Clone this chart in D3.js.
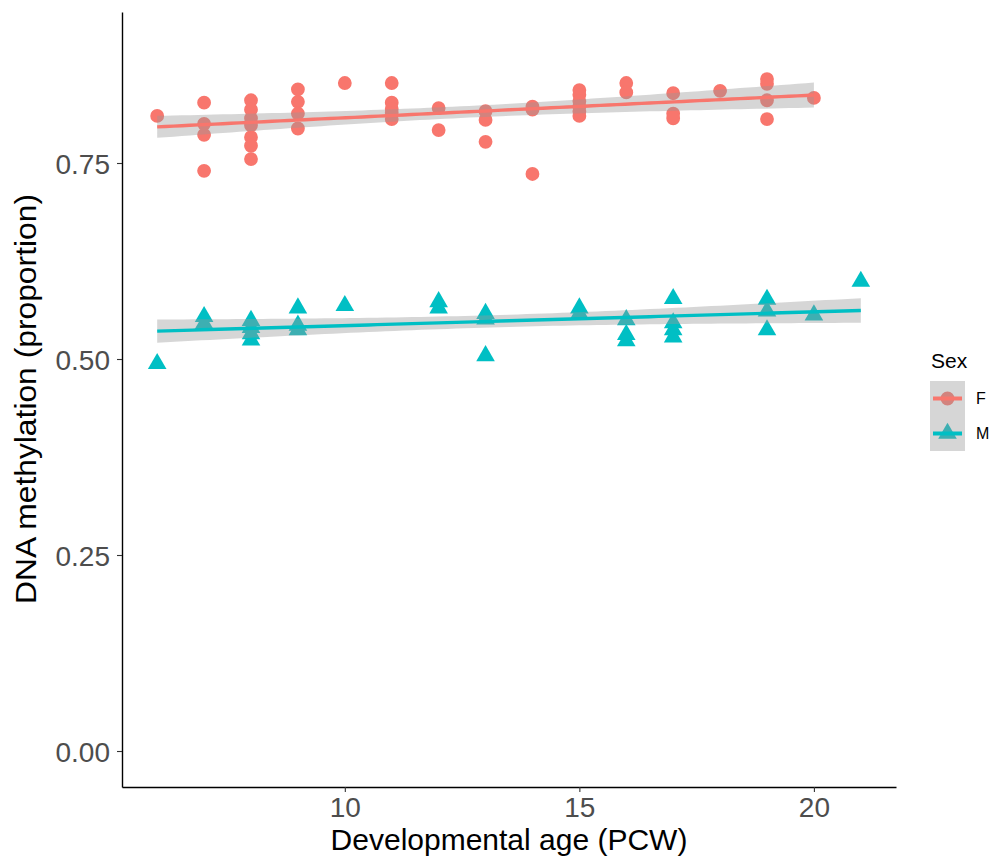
<!DOCTYPE html>
<html>
<head>
<meta charset="utf-8">
<script src="https://cdn.jsdelivr.net/npm/d3@7"></script>
<style>
  body { margin: 0; background: #fff; }
  svg { font-family: "Liberation Sans", Arial, sans-serif; }
</style>
</head>
<body>
<svg class="figure" width="994" height="864"></svg>
<script>
// data
var femaleAge = [6, 7, 7, 7, 7, 8, 8, 8, 8, 8, 8, 8, 9, 9, 9, 9, 10, 11, 11, 11, 11, 11,
  12, 12, 13, 13, 13, 14, 14, 14, 15, 15, 15, 15, 15, 15, 16, 16, 17, 17, 17, 18, 19, 19, 19, 19, 20];
var femaleMeth = [0.810, 0.827, 0.800, 0.786, 0.740, 0.830, 0.818, 0.807, 0.798, 0.783, 0.772, 0.755,
  0.844, 0.828, 0.813, 0.794, 0.852, 0.852, 0.827, 0.819, 0.814, 0.806,
  0.820, 0.792, 0.816, 0.805, 0.777, 0.822, 0.818, 0.736,
  0.843, 0.837, 0.829, 0.822, 0.816, 0.810, 0.852, 0.840, 0.839, 0.813, 0.807,
  0.842, 0.857, 0.851, 0.830, 0.806, 0.833];
var maleAge = [6, 7, 7, 8, 8, 8, 8, 9, 9, 9, 10, 12, 12, 13, 13, 13, 15, 15,
  16, 16, 16, 17, 17, 17, 17, 19, 19, 19, 20, 21];
var maleMeth = [0.494, 0.554, 0.545, 0.549, 0.540, 0.532, 0.524, 0.565, 0.543, 0.537,
  0.568, 0.573, 0.565, 0.558, 0.551, 0.504, 0.565, 0.558,
  0.550, 0.531, 0.523, 0.577, 0.546, 0.537, 0.528, 0.576, 0.561, 0.537, 0.556, 0.599];
var sexLevels = ["F", "M"];
var sexColors = ["#F8766D", "#00BFC4"];
var xTicks = [10, 15, 20];
var yTicks = [0, 0.25, 0.5, 0.75];

var svg = d3.select("svg.figure");
var plotLeft = 122, plotRight = 896, plotTop = 12, plotBottom = 787;

var x = d3.scaleLinear().domain([5.25, 21.75]).range([plotLeft, plotRight]);
var y = d3.scaleLinear().domain([-0.0459, 0.9426]).range([plotBottom, plotTop]);

var groups = [
  {sex: "F", color: sexColors[0], pts: femaleAge.map(function(a, i) { return {x: a, y: femaleMeth[i]}; })},
  {sex: "M", color: sexColors[1], pts: maleAge.map(function(a, i) { return {x: a, y: maleMeth[i]}; })}
];

// linear fit with 95% band, like geom_smooth(method = "lm")
function fit(pts) {
  var n = pts.length;
  var mx = d3.mean(pts, function(d) { return d.x; });
  var my = d3.mean(pts, function(d) { return d.y; });
  var sxx = d3.sum(pts, function(d) { return (d.x - mx) * (d.x - mx); });
  var sxy = d3.sum(pts, function(d) { return (d.x - mx) * (d.y - my); });
  var b = sxy / sxx, a = my - b * mx;
  var sse = d3.sum(pts, function(d) { var r = d.y - (a + b * d.x); return r * r; });
  var s = Math.sqrt(sse / (n - 2));
  var df = n - 2, z = 1.96;
  var t = z + (z * z * z + z) / (4 * df);
  var x0 = d3.min(pts, function(d) { return d.x; });
  var x1 = d3.max(pts, function(d) { return d.x; });
  return d3.range(0, 81).map(function(i) {
    var xv = x0 + (x1 - x0) * i / 80;
    var yv = a + b * xv;
    var se = s * Math.sqrt(1 / n + (xv - mx) * (xv - mx) / sxx);
    return {x: xv, y: yv, lo: yv - t * se, hi: yv + t * se};
  });
}

function shape(sex) {
  return sex == "F" ? d3.symbol(d3.symbolCircle, 150)() : d3.symbol(d3.symbolTriangle, 150)();
}

// points
groups.forEach(function(g) {
  svg.append("g").selectAll("path")
    .data(g.pts)
    .enter()
    .append("path")
    .attr("d", shape(g.sex))
    .attr("transform", function(d) { return "translate(" + x(d.x) + "," + y(d.y) + ")"; })
    .attr("fill", g.color);
});

// smooth
groups.forEach(function(g) {
  var f = fit(g.pts);
  svg.append("path")
    .datum(f)
    .attr("d", d3.area().x(function(d) { return x(d.x); }).y0(function(d) { return y(d.lo); }).y1(function(d) { return y(d.hi); }))
    .attr("fill", "#999999")
    .attr("fill-opacity", 0.4);
  svg.append("path")
    .datum(f)
    .attr("d", d3.line().x(function(d) { return x(d.x); }).y(function(d) { return y(d.y); }))
    .attr("fill", "none")
    .attr("stroke", g.color)
    .attr("stroke-width", 3.4);
});

// axes
var xAxis = svg.append("g")
  .attr("transform", "translate(0," + plotBottom + ")")
  .call(d3.axisBottom(x).tickValues(xTicks).tickSize(5).tickSizeOuter(0).tickPadding(5));
var yAxis = svg.append("g")
  .attr("transform", "translate(" + plotLeft + ",0)")
  .call(d3.axisLeft(y).tickValues(yTicks).tickFormat(d3.format(".2f")).tickSize(5).tickSizeOuter(0).tickPadding(7));

[xAxis, yAxis].forEach(function(ax) {
  ax.select(".domain").attr("stroke", "#000").attr("stroke-width", 1.4);
  ax.selectAll(".tick line").attr("stroke", "#333").attr("stroke-width", 1.1);
  ax.selectAll(".tick text")
    .attr("fill", "#4d4d4d")
    .style("font-size", "28px")
    .style("font-family", "Liberation Sans, Arial, sans-serif");
});
yAxis.selectAll(".tick text").attr("dy", "0.36em");

svg.append("text")
  .attr("x", (plotLeft + plotRight) / 2)
  .attr("y", 850)
  .attr("text-anchor", "middle")
  .style("font-size", "30px")
  .text("Developmental age (PCW)");

svg.append("text")
  .attr("transform", "translate(36,399) rotate(-90) scale(1.06,1)")
  .attr("text-anchor", "middle")
  .style("font-size", "30px")
  .text("DNA methylation (proportion)");

// legend
var legend = svg.append("g").attr("transform", "translate(930,381)");
legend.append("text")
  .attr("x", 1)
  .attr("y", -13)
  .style("font-size", "21px")
  .text("Sex");

var keys = legend.selectAll("g.key")
  .data(sexLevels)
  .enter()
  .append("g")
  .attr("class", "key")
  .attr("transform", function(d, i) { return "translate(0," + (i * 35) + ")"; });

keys.append("path")
  .attr("d", function(d) { return shape(d); })
  .attr("transform", "translate(17.5,17.5)")
  .attr("fill", function(d, i) { return sexColors[i]; });
keys.append("rect")
  .attr("width", 35)
  .attr("height", 35)
  .attr("fill", "#999999")
  .attr("fill-opacity", 0.4);
keys.append("line")
  .attr("x1", 3).attr("x2", 32)
  .attr("y1", 17.5).attr("y2", 17.5)
  .attr("stroke", function(d, i) { return sexColors[i]; })
  .attr("stroke-width", 4);
keys.append("text")
  .attr("x", 46)
  .attr("y", 17.5)
  .attr("dy", "0.36em")
  .style("font-size", "16px")
  .text(function(d) { return d; });
</script>
</body>
</html>
